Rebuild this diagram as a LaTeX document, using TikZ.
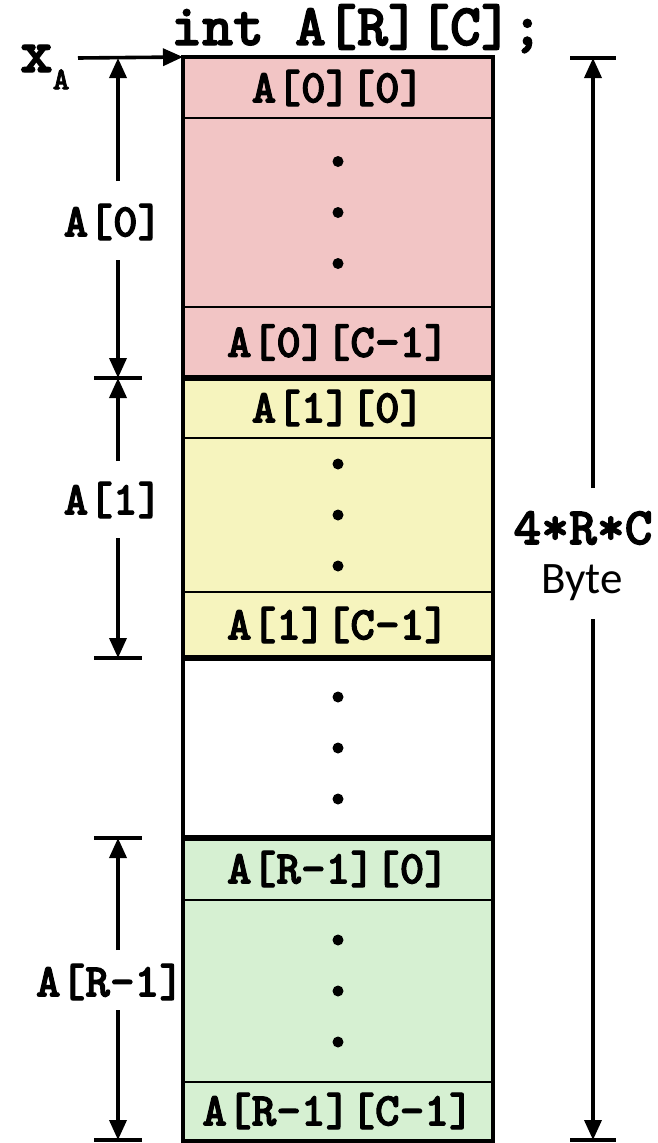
\documentclass[tikz,border=0pt]{standalone}
\usepackage{fontspec}
\newfontfamily\courbold[FakeBold=2.2]{lmmonolt10-bold.otf}
\newfontfamily\bodyfont{Carlito}
\usetikzlibrary{arrows.meta}
\definecolor{rowpink}{RGB}{242,197,197}
\definecolor{rowyellow}{RGB}{246,244,190}
\definecolor{rowgreen}{RGB}{214,240,210}
\newcommand{\codefont}[1]{\courbold\fontsize{#1}{#1}\selectfont}
\begin{document}
\begin{tikzpicture}[x=1pt,y=-1pt,
  cellbox/.style={draw, line width=2pt, minimum width=308pt, inner sep=0pt,
    font=\codefont{47}},
  section/.style={draw, line width=4pt},
  dotmark/.style={circle, fill=black, inner sep=0pt, minimum size=11pt},
  dimline/.style={line width=3.6pt, -{Triangle[length=20pt,width=17pt]}},
  tick/.style={line width=4.5pt},
  dimlabel/.style={font=\codefont{47}, inner sep=0pt}]
\useasboundingbox (0,0) rectangle (658,1143);

% title
\node[font=\codefont{59}, anchor=base, inner sep=0pt] (title) at (357,45) {int A[R][C];};

% row A[0]
\node[cellbox, fill=rowpink, minimum height=60pt] (a00) at (338,88) {A[0][0]};
\node[cellbox, fill=rowpink, minimum height=189pt] (a0m) at (338,212.5) {};
\node[cellbox, fill=rowpink, minimum height=71pt] (a0c) at (338,342.5) {A[0][C-1]};
% row A[1]
\node[cellbox, fill=rowyellow, minimum height=60pt] (a10) at (338,408) {A[1][0]};
\node[cellbox, fill=rowyellow, minimum height=154pt] (a1m) at (338,515) {};
\node[cellbox, fill=rowyellow, minimum height=66pt] (a1c) at (338,625) {A[1][C-1]};
% rows in between
\node[cellbox, fill=white, minimum height=180pt] (gap) at (338,748) {};
% row A[R-1]
\node[cellbox, fill=rowgreen, minimum height=62pt] (ar0) at (338,869) {A[R-1][0]};
\node[cellbox, fill=rowgreen, minimum height=182pt] (arm) at (338,991) {};
\node[cellbox, fill=rowgreen, minimum height=58pt] (arc) at (338,1111) {A[R-1][C-1]};

% row outlines
\draw[section] (a00.north west) rectangle (a0c.south east);
\draw[section] (a10.north west) rectangle (a1c.south east);
\draw[section] (gap.north west) rectangle (gap.south east);
\draw[section] (ar0.north west) rectangle (arc.south east);

% vertical ellipses
\foreach \c in {a0m,a1m,gap,arm} {
  \node[dotmark] at ([yshift=-51pt]\c.center) {};
  \node[dotmark] at (\c.center) {};
  \node[dotmark] at ([yshift=51pt]\c.center) {};
}

% start address
\node[font=\codefont{62}, inner sep=0pt, anchor=base west] (xa) at (20,72)
  {x\raisebox{-0.28em}{\fontsize{32}{32}\selectfont A}};
\coordinate (xstart) at (78,58);
\draw[dimline] (xstart) -- (a00.north west);

% dimension of A[0]
\coordinate (d0top) at (118,58);
\coordinate (d0bot) at (118,378);
\coordinate (t1l) at (94,378);
\coordinate (t1r) at (142,378);
\node[dimlabel] (l0) at (113,222) {A[0]};
\draw[dimline] (118,181) -- (d0top);
\draw[dimline] (118,260) -- (d0bot);
\draw[tick] (t1l) -- (t1r);

% dimension of A[1]
\coordinate (d1top) at (118,378);
\coordinate (d1bot) at (118,658);
\coordinate (t2l) at (94,658);
\coordinate (t2r) at (142,658);
\node[dimlabel] (l1) at (113,500) {A[1]};
\draw[dimline] (118,461) -- (d1top);
\draw[dimline] (118,538) -- (d1bot);
\draw[tick] (t2l) -- (t2r);

% dimension of A[R-1]
\coordinate (drtop) at (118,838);
\coordinate (drbot) at (118,1140);
\node[dimlabel] (lr) at (110,982) {A[R-1]};
\draw[tick] (94,838) -- (142,838);
\draw[tick] (94,1140) -- (142,1140);
\draw[dimline] (118,950) -- (drtop);
\draw[dimline] (118,1010) -- (drbot);

% total size
\coordinate (stop) at (593,58);
\coordinate (sbot) at (593,1140);
\draw[tick] (570,58) -- (616,58);
\draw[tick] (570,1140) -- (616,1140);
\node[font=\codefont{53}, inner sep=0pt] (size) at (583,528) {4*R*C};
\node[font=\bodyfont\fontsize{45}{45}\selectfont, inner sep=0pt] (unit) at (582,583) {Byte};
\draw[dimline] (593,488) -- (stop);
\draw[dimline] (593,619) -- (sbot);
\end{tikzpicture}
\end{document}
